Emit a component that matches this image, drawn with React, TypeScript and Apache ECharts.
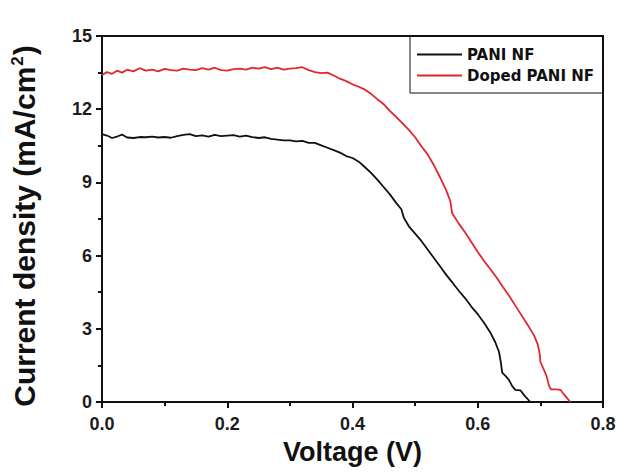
import React, { useEffect, useRef } from "react";
import * as echarts from "echarts";

const xTicks = [0, 0.2, 0.4, 0.6, 0.8];
const yTicks = [0, 3, 6, 9, 12, 15];

const seriesNames = ["PANI NF", "Doped PANI NF"];
const xTitle = "Voltage (V)";
const yTitleMain = "Current density (mA/cm";
const yTitleSup = "2";

const voltagePani = [
  0.0, 0.008, 0.016, 0.024, 0.032, 0.04, 0.05, 0.06, 0.07, 0.08, 0.09, 0.1, 0.11, 0.12, 0.13, 0.14,
  0.15, 0.16, 0.17, 0.18, 0.19, 0.2, 0.21, 0.22, 0.23, 0.24, 0.25, 0.26, 0.27, 0.28, 0.29, 0.3,
  0.31, 0.32, 0.33, 0.34, 0.35, 0.36, 0.37, 0.38, 0.39, 0.4, 0.41, 0.42, 0.43, 0.44, 0.45, 0.46,
  0.47, 0.478, 0.482, 0.49, 0.5, 0.51, 0.52, 0.53, 0.54, 0.55, 0.56, 0.57, 0.58, 0.59, 0.6, 0.61,
  0.62, 0.628, 0.634, 0.637, 0.639, 0.645, 0.65, 0.655, 0.66, 0.668, 0.675, 0.684,
];
const currentPani = [
  10.98, 10.92, 10.82, 10.88, 10.96, 10.84, 10.82, 10.86, 10.85, 10.88, 10.84, 10.86, 10.83, 10.9,
  10.95, 10.98, 10.9, 10.93, 10.88, 10.95, 10.9, 10.92, 10.94, 10.88, 10.92, 10.86, 10.82, 10.85,
  10.78, 10.75, 10.72, 10.72, 10.68, 10.7, 10.62, 10.62, 10.52, 10.42, 10.32, 10.22, 10.08, 10.0,
  9.85, 9.62, 9.38, 9.1, 8.8, 8.5, 8.15, 7.9, 7.55, 7.2, 6.9, 6.6, 6.25, 5.9, 5.55, 5.2, 4.88, 4.55,
  4.25, 3.9, 3.6, 3.25, 2.85, 2.45, 2.05, 1.6, 1.2, 1.05, 0.9, 0.65, 0.5, 0.48, 0.25, 0.0,
];

const voltageDoped = [
  0.0, 0.008, 0.016, 0.024, 0.032, 0.04, 0.05, 0.06, 0.07, 0.08, 0.09, 0.1, 0.11, 0.12, 0.13, 0.14,
  0.15, 0.16, 0.17, 0.18, 0.19, 0.2, 0.21, 0.22, 0.23, 0.24, 0.25, 0.26, 0.27, 0.28, 0.29, 0.3,
  0.31, 0.32, 0.33, 0.34, 0.35, 0.36, 0.37, 0.38, 0.39, 0.4, 0.41, 0.42, 0.43, 0.44, 0.45, 0.46,
  0.47, 0.48, 0.49, 0.5, 0.51, 0.52, 0.53, 0.54, 0.55, 0.556, 0.559, 0.57, 0.58, 0.59, 0.6, 0.61,
  0.62, 0.63, 0.64, 0.65, 0.66, 0.67, 0.68, 0.69, 0.696, 0.699, 0.7, 0.706, 0.71, 0.714, 0.717,
  0.725, 0.732, 0.738, 0.744, 0.748,
];
const currentDoped = [
  13.4, 13.52, 13.45, 13.58, 13.5, 13.62, 13.55, 13.68, 13.58, 13.62, 13.55, 13.65, 13.6, 13.58,
  13.66, 13.62, 13.6, 13.68, 13.62, 13.7, 13.6, 13.58, 13.64, 13.66, 13.62, 13.7, 13.66, 13.72,
  13.64, 13.7, 13.62, 13.66, 13.68, 13.72, 13.6, 13.52, 13.48, 13.5, 13.38, 13.25, 13.15, 13.02,
  12.92, 12.8, 12.62, 12.4, 12.2, 11.92, 11.68, 11.42, 11.15, 10.85, 10.48, 10.15, 9.7, 9.2, 8.65,
  8.25, 7.75, 7.3, 6.95, 6.55, 6.15, 5.78, 5.45, 5.1, 4.72, 4.35, 3.95, 3.55, 3.15, 2.72, 2.35,
  1.95, 1.65, 1.3, 1.05, 0.65, 0.52, 0.52, 0.5, 0.3, 0.12, 0.0,
];

const colors = ["#111111", "#e0272f"];
const FONT = "'Liberation Sans', Arial, sans-serif";
const LEGEND_FONT = "'DejaVu Sans', 'Liberation Sans', sans-serif";

export default function App() {
  const ref = useRef<HTMLDivElement>(null);

  useEffect(() => {
    if (!ref.current) return;
    const chart = echarts.init(ref.current, null, { renderer: "svg" });
    const pani = voltagePani.map((v, i) => [v, currentPani[i]]);
    const doped = voltageDoped.map((v, i) => [v, currentDoped[i]]);
    chart.setOption({
      animation: false,
      backgroundColor: "#ffffff",
      grid: {
        left: 102,
        top: 36,
        right: 21,
        bottom: 71,
        show: true,
        borderColor: "#111",
        borderWidth: 2,
      },
      legend: {
        show: true,
        orient: "vertical",
        right: 21,
        top: 36,
        data: seriesNames.map((n, i) => ({ name: n, icon: "rect", itemStyle: { color: colors[i] } })),
        itemWidth: 45,
        itemHeight: 2,
        itemGap: 6,
        padding: [11, 9, 10, 7],
        borderColor: "#111",
        borderWidth: 1,
        textStyle: { fontFamily: LEGEND_FONT, fontWeight: "bold", fontSize: 15, color: "#111" },
      },
      graphic: [
        {
          type: "text",
          x: 24,
          y: 226,
          rotation: Math.PI / 2,
          style: {
            text: `{m|${yTitleMain}}{s|${yTitleSup}}{m|)}`,
            textAlign: "center",
            textVerticalAlign: "middle",
            rich: {
              m: { fontFamily: FONT, fontWeight: "bold", fontSize: 30, fill: "#111" },
              s: {
                fontFamily: FONT,
                fontWeight: "bold",
                fontSize: 17,
                fill: "#111",
                verticalAlign: "top",
                padding: [0, 1, 11, 1],
              },
            },
          },
        },
      ],
      xAxis: {
        type: "value",
        min: xTicks[0],
        max: xTicks[xTicks.length - 1],
        interval: 0.2,
        name: xTitle,
        nameLocation: "middle",
        nameGap: 36,
        nameTextStyle: { fontFamily: FONT, fontWeight: "bold", fontSize: 27, color: "#111" },
        axisLine: { show: true, lineStyle: { color: "#111", width: 2 } },
        axisTick: { show: true, inside: false, length: 6, lineStyle: { color: "#111", width: 2 } },
        minorTick: { show: true, splitNumber: 2, length: 4, lineStyle: { color: "#111", width: 2 } },
        splitLine: { show: false },
        axisLabel: {
          fontFamily: FONT,
          fontWeight: "bold",
          fontSize: 18,
          color: "#1c1c1c",
          margin: 13,
          formatter: (v: number) => v.toFixed(1),
        },
      },
      yAxis: {
        type: "value",
        min: yTicks[0],
        max: yTicks[yTicks.length - 1],
        interval: 3,
        axisLine: { show: true, lineStyle: { color: "#111", width: 2 } },
        axisTick: { show: true, inside: false, length: 6, lineStyle: { color: "#111", width: 2 } },
        minorTick: { show: true, splitNumber: 2, length: 4, lineStyle: { color: "#111", width: 2 } },
        splitLine: { show: false },
        axisLabel: {
          fontFamily: FONT,
          fontWeight: "bold",
          fontSize: 18,
          color: "#1c1c1c",
          margin: 10,
        },
      },
      series: [
        {
          name: seriesNames[0],
          type: "line",
          data: pani,
          showSymbol: false,
          symbol: "none",
          lineStyle: { color: colors[0], width: 1.8 },
          itemStyle: { color: colors[0] },
        },
        {
          name: seriesNames[1],
          type: "line",
          data: doped,
          showSymbol: false,
          symbol: "none",
          lineStyle: { color: colors[1], width: 1.8 },
          itemStyle: { color: colors[1] },
        },
      ],
    });
    return () => chart.dispose();
  }, []);

  return (
    <div
      ref={ref}
      style={{ position: "fixed", left: 0, top: 0, width: 624, height: 473, background: "#fff" }}
    />
  );
}
